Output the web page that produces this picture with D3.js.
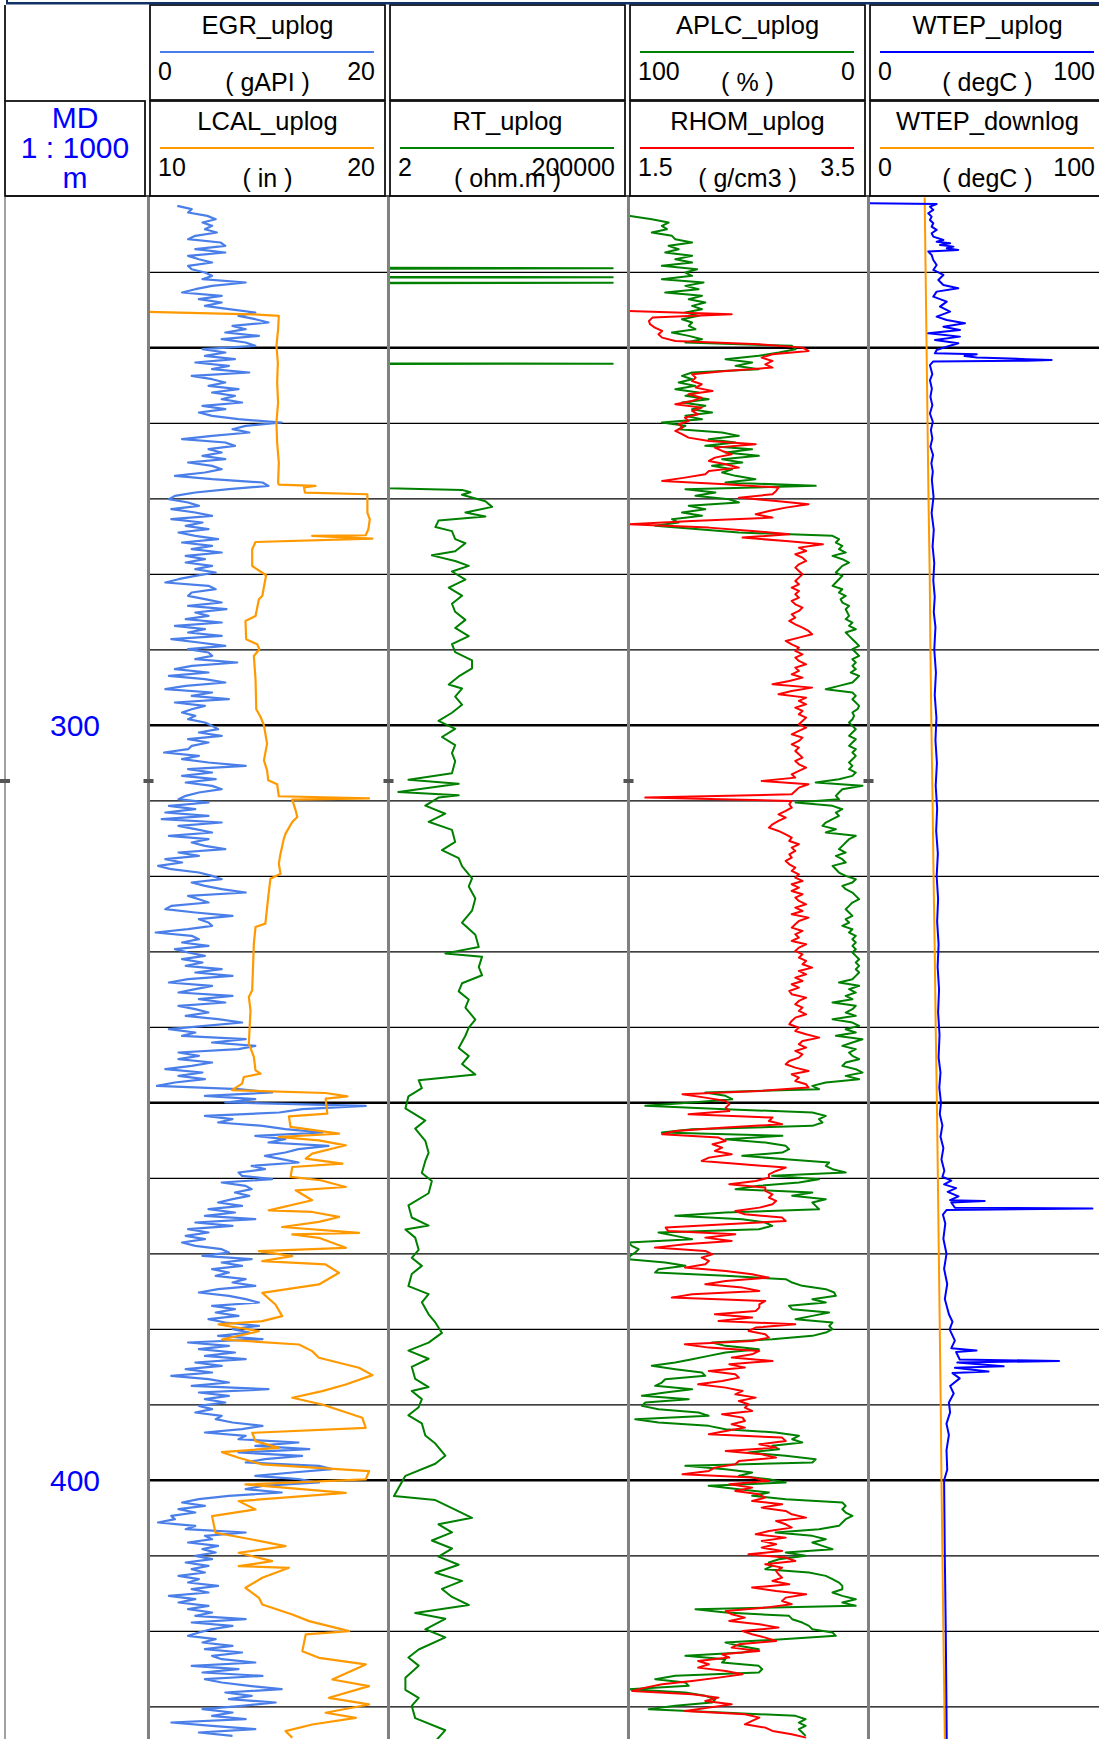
<!DOCTYPE html>
<html><head><meta charset="utf-8">
<script src="https://cdn.jsdelivr.net/npm/d3@7/dist/d3.min.js"></script>
<style>html,body{margin:0;padding:0;background:#fff}svg{display:block}</style>
</head><body>
<svg id="chart" width="1099" height="1739"></svg>
<script>
// ---------------- DATA ----------------
// regular depth sampling for the dense curves (m)
const SAMPLE_TOP = 231.2, SAMPLE_STEP = 0.4415, RHOM_TOP = 245.12;

// EGR_uplog (gAPI), from SAMPLE_TOP every SAMPLE_STEP
const EGR = [
 2.4,3.6,3.3,4.9,5.6,4.5,5.3,4.7,5.7,3.9, 3.3,6.0,6.4,3.9,6.4,3.3,4.2,5.3,3.3,3.6,
 4.7,5.3,4.5,8.1,5.3,3.9,2.8,6.1,4.2,6.1, 4.7,6.7,8.9,7.5,8.9,10.0,7.0,8.1,6.4,9.2,
 6.1,8.1,8.9,4.5,6.4,4.7,7.2,3.9,6.7,5.3, 8.4,3.6,5.3,6.4,5.0,7.5,5.3,7.2,6.1,7.8,
 4.5,6.4,4.2,5.3,7.5,11.1,8.1,7.0,8.4,5.3, 2.8,6.4,7.2,5.0,6.1,4.5,6.4,3.3,5.3,6.1,
 4.7,2.2,5.3,9.5,10.0,6.7,3.9,2.2,1.7,3.3, 4.2,1.9,3.9,5.3,1.9,4.5,3.1,5.0,2.5,3.9,
 5.8,2.8,5.3,3.6,6.1,3.1,4.7,3.1,5.3,3.9, 5.6,3.9,2.5,1.4,5.0,5.6,3.6,3.3,4.7,6.1,
 3.3,6.5,3.9,5.0,3.1,6.1,2.2,4.7,3.3,6.1, 1.9,4.2,6.4,3.3,5.0,5.3,3.9,7.4,3.6,2.2,
 5.0,1.7,4.7,6.4,3.1,1.4,5.3,3.6,6.7,2.2, 4.7,3.6,2.8,3.9,
 3.3,4.7,5.3,5.8,4.2,6.1,3.3,5.0,3.6,3.3, 1.3,4.2,2.8,5.0,8.1,3.3,5.3,2.8,5.6,3.1,
 5.3,6.1,4.2,3.1,2.5,5.0,1.7,3.9,1.4,5.0, 1.1,6.1,2.5,3.9,5.3,1.7,5.0,3.6,4.7,6.4,
 2.5,4.2,1.4,2.8,0.8,1.9,4.2,5.3,6.1,3.6, 4.7,6.1,8.1,3.3,4.2,5.0,1.9,1.4,3.9,7.0,
 4.2,5.0,5.3,3.3,0.6,3.6,4.2,2.8,5.0,2.2, 3.3,4.7,2.8,4.5,3.1,6.1,3.9,7.0,3.3,1.7,
 5.3,3.9,2.5,7.0,4.2,6.4,2.5,3.9,5.0,3.1, 5.8,7.8,4.7,1.7,3.9,2.8,8.1,5.3,8.9,7.5,
 2.5,4.2,2.5,5.3,3.6,1.4,4.5,2.5,4.7,2.2, 0.7,7.5,10.3,4.7,8.9,6.4,18.1,12.8,10.9,4.7,
 7.0,5.8,9.5,11.4,14.5,8.9,11.4,10.0,15.0,12.5, 11.4,9.7,11.1,12.5,8.6,9.7,7.5,7.8,10.3,6.1,
 8.1,8.6,7.2,8.4,7.0,5.8,7.8,5.0,7.2,4.7, 8.9,3.9,7.0,3.3,
 5.0,3.1,4.7,2.8,3.9,6.1,6.7,4.5,8.6,6.1, 7.8,5.3,6.7,5.6,8.1,7.0,8.9,5.8,4.2,6.7,
 8.1,9.2,5.3,7.2,5.6,7.5,5.0,6.4,9.2,7.0, 8.4,5.8,9.5,3.3,6.7,4.2,7.2,4.7,8.1,3.9,
 6.1,3.1,5.3,1.9,5.0,6.7,3.6,10.0,4.2,6.7, 4.7,6.4,4.2,5.3,3.9,6.1,5.6,7.0,9.5,7.8,
 4.7,8.1,7.5,12.5,8.9,13.4,7.5,12.8,9.7,8.1, 14.2,15.3,12.0,8.9,12.5,14.2,9.5,8.1,11.1,6.7,
 4.2,2.8,4.7,2.5,3.9,1.9,2.2,0.8,3.9,3.1, 8.1,4.7,5.3,3.3,5.8,4.5,5.6,3.9,5.3,3.1,
 5.0,3.6,4.7,2.5,4.2,3.3,5.8,3.6,5.0,1.7, 3.9,2.5,5.0,3.3,5.3,3.9,8.1,3.6,7.0,5.3,
 4.2,3.3,5.6,4.5,7.0,4.7,7.8,5.3,6.1,8.9, 3.6,7.5,4.5,9.5,4.7,6.1,8.4,11.1,6.4,8.6,
 6.7,10.6,7.8,4.5,7.0,5.3,8.1,1.9,5.3,8.9, 4.2,7.0
];

// APLC_uplog (%), from SAMPLE_TOP every SAMPLE_STEP
const APLC = [
 100,100,100,100,90.3,83.3,86.1,84,90.3,81.9, 80.5,73.5,83.3,79.1,84.7,73.5,80.5,73.5,86.1,71.4,
 76.3,73.5,86.1,68.7,76.3,70.8,84.7,69.4,74.9,68.0, 73.5,69.4,76.3,70.8,77.7,73.5,74.9,72.1,81.9,74.9,
 69.4,76.3,31.8,30.4,37.3,45.7,59.6,48.5,55.4,45.7, 73.5,77.7,73.5,79.1,72.1,80.5,70.8,76.3,66.6,77.7,
 68.0,73.5,65.2,76.3,69.4,86.1,76.3,79.1,61.0,54.0, 66.6,55.4,68.0,48.5,59.6,45.7,61.0,52.6,65.2,56.8,
 61.0,55.4,47.1,59.6,22.0,76.3,63.8,72.1,58.2,54.0, 74.9,68.0,77.7,69.4,81.9,79.1,88.9,70.8,54.0,15.0,
 12.3,13.6,10.9,12.3,9.5,15.0,10.9,8.1,10.9,12.3, 13.6,10.9,12.3,13.6,15.0,10.9,12.3,9.5,11.6,10.9,
 8.1,9.5,8.8,8.1,9.5,6.7,8.1,5.3,9.5,8.1, 6.7,5.3,3.9,6.7,5.3,3.9,6.7,5.3,6.7,5.3,
 7.4,3.9,5.3,6.7,12.3,17.8,6.7,5.3,6.7,5.3, 3.9,4.6,6.7,6.0,
 6.7,8.1,6.7,5.3,6.7,8.1,5.3,6.7,8.1,5.3, 6.7,5.3,6.7,8.1,6.7,8.1,5.3,6.7,12.3,22.0,
 2.5,10.9,12.3,13.6,12.3,30.4,15.0,10.9,13.6,12.3, 15.0,17.8,19.2,13.6,17.8,5.3,8.1,9.5,10.9,12.3,
 9.5,13.6,10.9,9.5,15.0,13.6,12.3,9.5,5.3,6.7, 10.9,9.5,6.7,5.3,3.9,6.7,8.1,9.5,8.1,6.7,
 9.5,8.1,10.9,6.7,8.1,5.3,6.7,5.3,6.7,5.3, 6.7,5.3,3.9,5.3,3.9,5.3,3.9,5.3,6.7,12.3,
 3.9,8.1,5.3,9.5,6.7,15.0,5.3,6.7,9.5,5.3, 15.0,6.7,3.9,9.5,5.3,13.6,2.5,6.7,10.9,5.3,
 8.1,6.7,3.9,9.5,10.9,5.3,2.5,9.5,3.9,17.8, 23.4,20.6,68.0,59.6,56.8,73.5,93.0,59.6,23.4,17.8,
 20.6,19.2,23.4,73.5,86.1,35.9,59.6,43.0,34.5,33.1, 35.9,52.6,34.5,16.4,17.8,15.0,9.5,40.1,20.6,29.0,
 45.7,55.4,23.4,31.8,17.8,23.4,22.0,20.6,59.6,80.5, 52.6,43.0,40.1,45.7,
 87.5,80.5,73.5,100,98.6,95.8,97.2,99.3,100,84.7, 76.3,87.5,88.9,59.6,34.5,31.8,27.6,17.8,14.3,13.6,
 23.4,17.8,33.1,31.8,16.4,23.4,30.4,15.0,16.4,15.0, 17.8,23.4,40.1,65.2,59.6,45.7,59.6,66.6,73.5,80.5,
 90.3,80.5,69.4,68.0,84.7,86.1,88.9,73.5,84.7,94.4, 74.9,93.0,94.4,87.5,70.8,66.6,97.2,87.5,66.6,59.6,
 38.7,29.0,31.8,27.6,40.1,37.3,50.1,34.5,22.0,23.4, 76.3,59.6,48.5,54.0,41.5,34.5,66.6,54.0,41.5,48.5,
 34.5,10.9,9.5,10.9,9.5,6.7,9.5,10.9,12.3,20.6, 38.7,23.4,17.8,23.4,19.2,15.0,34.5,26.2,37.3,41.5,
 40.1,43.0,24.8,17.8,15.0,12.3,10.9,10.9,15.0,10.9, 5.3,10.9,5.3,72.1,59.6,33.1,31.8,27.6,24.8,23.4,
 15.0,13.6,35.9,59.6,54.0,45.7,52.6,76.3,59.6,61.0, 45.7,44.3,45.7,80.5,88.9,76.3,74.9,100,76.3,68.0,
 63.8,65.2,80.5,91.6,61.0,30.4,26.2,29.0,26.2,29.0, 27.6,26.2
];

// RHOM_uplog (g/cm3), from RHOM_TOP every SAMPLE_STEP
const RHOM = [
 1.50,2.36,1.70,1.67,1.68,1.72,1.78,1.75,1.78,1.89, 2.59,2.95,3.00,2.70,2.61,2.70,2.64,2.70,2.31,2.03,
 2.06,2.03,2.11,2.06,2.20,2.00,2.11,2.03,1.89,2.11, 2.03,2.08,1.97,2.00,1.92,1.95,1.89,1.95,2.00,2.17,
 2.56,2.22,2.28,2.36,2.22,2.17,2.31,2.42,2.17,2.14, 1.97,1.78,2.31,2.75,2.73,2.70,2.42,2.73,3.00,2.81,
 2.67,2.56,2.70,2.03,1.50,2.17,2.53,2.84,2.45,2.81, 3.12,2.92,2.98,2.89,2.95,2.98,2.92,2.89,2.92,2.95,
 2.92,2.89,2.92,2.86,2.92,2.89,2.92,2.86,2.89,2.95, 2.92,2.86,2.89,2.84,2.89,2.95,3.00,3.03,2.92,2.81,
 2.86,2.92,2.89,2.95,2.89,2.92,2.98,2.89,2.92,2.86, 2.95,2.84,2.70,3.03,2.86,2.75,2.98,2.92,2.98,2.89,
 2.95,2.92,
 2.98,2.95,2.92,2.98,2.92,2.86,2.95,2.92,2.86,2.92, 2.89,2.92,2.95,2.89,2.92,2.98,2.92,2.86,2.89,2.61,
 3.00,2.92,2.89,2.86,1.64,2.86,2.84,2.86,2.81,2.75, 2.81,2.75,2.70,2.67,2.75,2.81,2.86,2.84,2.92,2.86,
 2.89,2.84,2.86,2.81,2.84,2.89,2.86,2.92,2.89,2.95, 2.86,2.92,2.86,2.95,2.89,2.92,2.98,2.89,2.95,2.86,
 3.00,2.92,2.89,2.86,2.95,2.89,2.92,2.86,2.98,2.92, 2.89,2.95,2.92,2.98,2.95,3.03,2.92,2.98,2.89,2.95,
 2.86,2.92,2.84,2.86,2.98,2.92,2.89,2.95,2.92,2.98, 2.89,2.86,2.84,2.92,2.89,2.98,3.09,2.95,2.92,2.98,
 2.89,2.95,2.92,2.84,2.81,2.89,3.00,2.86,2.92,2.89, 2.98,3.00,2.59,1.95,2.14,2.31,2.34,2.31,2.34,2.00,
 2.70,2.67,2.78,2.31,1.89,1.78,2.25,2.31,2.20,2.28, 2.22,2.36,2.17,2.11,2.45,2.81,2.73,2.67,2.67,2.56,
 2.34,2.64,2.64,2.70,2.67,2.73,2.70,2.59,2.39,2.47, 2.78,2.81,2.31,1.81,1.83,
 2.39,2.14,2.36,1.97,1.72,2.14,2.20,2.11,2.17,2.14, 1.97,2.31,2.53,2.67,2.31,2.14,2.45,2.59,2.03,1.86,
 2.64,2.59,2.59,2.56,2.22,2.53,2.25,2.89,2.56,2.50, 2.64,2.67,2.53,1.97,2.17,2.59,2.53,2.36,2.70,2.34,
 2.47,2.17,2.39,2.42,2.28,2.08,2.31,2.45,2.39,2.56, 2.42,2.50,2.47,2.53,2.28,2.45,2.47,2.36,2.47,2.31,
 2.17,2.78,2.81,2.59,2.73,2.31,2.61,2.73,2.42,2.39, 2.22,2.17,1.95,2.53,2.67,2.34,2.53,2.39,2.59,2.64,
 2.53,2.78,2.61,2.81,2.86,2.98,2.73,2.81,2.86,2.67, 2.56,2.81,2.61,2.73,2.61,2.78,2.50,2.81,2.89,2.64,
 2.78,2.73,2.75,2.78,2.70,2.84,2.53,2.73,2.98,2.81, 2.78,2.86,2.64,2.31,2.36,2.47,2.34,2.59,2.75,2.45,
 2.53,2.64,2.73,2.42,2.36,2.59,2.28,2.34,2.08,2.17, 2.08,2.31,2.45,2.25,2.03,1.78,1.64,1.53,2.03,2.25,
 2.14,2.36,2.17,1.97,2.47,2.59,2.53,2.47,2.64,2.70, 2.86,2.98
];

// LCAL_uplog (in): [depth m, value]
const LCAL = [
 [245.25,10.0],[245.56,14.32],[245.78,15.43],[247.55,15.40],[249.76,15.33],[251.96,15.39],[254.61,15.36],
 [257.26,15.40],[259.91,15.33],[262.56,15.36],[265.21,15.43],[267.86,15.40],[268.12,15.43],[268.30,16.96],
 [268.48,16.48],[269.18,16.52],[269.40,19.12],[271.83,19.12],[272.72,19.22],[274.04,19.16],[274.83,19.05],
 [274.92,16.82],[275.28,19.33],[275.72,14.46],[276.69,14.32],[278.90,14.32],[279.79,14.74],[280.13,14.90],
 [282.87,14.74],[283.31,14.60],[285.52,14.46],[286.18,14.04],[288.61,14.07],[289.27,14.53],[289.93,14.62],
 [290.82,14.39],[293.91,14.46],[297.88,14.49],[298.90,14.67],[300.00,14.81],[302.43,14.94],[304.64,14.81],
 [305.96,14.94],[307.28,14.99],[307.81,15.36],[309.40,15.43],[309.67,19.19],[309.85,15.99],[311.26,16.13],
 [312.14,16.20],[312.80,15.99],[314.35,15.71],[315.01,15.64],[317.00,15.50],[318.32,15.43],[319.65,15.50],
 [320.31,15.08],[322.74,14.99],[326.27,14.87],[326.71,14.46],[328.92,14.39],[335.10,14.32],[335.98,14.18],
 [337.75,14.25],[342.16,14.18],[343.93,14.39],[345.70,14.46],[346.14,14.67],[346.58,13.97],[347.46,13.90],
 [347.90,13.69],[348.34,13.48],[348.70,17.38],[349.14,18.29],[349.45,17.38],[351.43,17.45],[351.79,15.85],
 [353.20,15.92],[354.08,17.94],[354.53,15.43],[354.97,17.10],[355.63,18.22],[356.73,16.82],[357.40,16.55],
 [358.06,18.08],[358.50,15.99],[359.82,15.92],[360.26,17.17],[361.15,18.22],[361.59,16.13],[362.91,16.82],
 [364.24,15.01],[364.46,16.82],[365.12,17.94],[365.78,17.10],[366.45,15.57],[367.22,18.77],[367.44,15.99],
 [367.88,17.10],[369.21,18.22],[369.65,14.60],[370.31,15.99],[370.97,14.74],[371.41,17.38],[372.52,17.94],
 [374.06,17.10],[375.17,14.74],[376.71,15.29],[378.26,15.57],[378.92,14.74],[379.36,12.92],[380.24,14.60],
 [381.35,13.06],[382.01,16.27],[382.89,16.82],[383.77,17.10],[385.10,18.77],[386.07,19.33],[387.31,18.22],
 [388.19,17.24],[389.07,15.99],[389.96,17.24],[391.72,18.91],[393.05,19.05],[393.71,14.32],[394.81,14.46],
 [395.70,15.43],[396.27,13.06],[397.02,13.76],[397.90,14.74],[398.79,19.19],[399.89,19.05],[400.55,14.04],
 [401.66,18.22],[402.76,13.76],[403.86,14.46],[404.75,12.65],[406.95,12.79],[407.84,14.32],[408.72,15.71],
 [409.60,13.76],[410.71,15.15],[411.37,13.76],[411.59,15.85],[412.91,14.74],[414.24,14.04],[415.56,14.60],
 [416.45,14.74],[417.77,15.99],[418.65,16.69],[419.98,18.36],[420.42,16.55],[422.63,16.41],[423.51,17.10],
 [424.39,19.05],[426.38,17.66],[427.26,19.19],[428.81,17.52],[429.69,19.19],[430.79,17.38],[431.46,18.64],
 [432.34,16.82],[433.22,15.71],[434.11,15.99]
];

// RT_uplog (ohm.m): [depth m, value]
const RT = [
 [239.40,2],[239.45,94000],[239.52,2],[240.60,2],[240.65,94000],[240.70,2],[241.35,2],[241.40,94000],[241.45,2],
 [252.05,2],[252.10,94000],[252.15,2],
 [268.61,2],[268.82,68],[269.14,102],[269.47,68],[270.32,209],[271.07,288],[271.82,80],[272.35,209],[272.89,22],
 [273.74,19],[274.28,42],[275.35,49],[275.88,80],[276.95,49],[277.49,16],[278.24,49],[278.88,94],[279.63,42],
 [280.70,80],[281.76,36],[282.83,68],[283.90,42],[284.97,49],[286.04,80],[287.11,49],[288.18,94],[289.25,42],
 [290.32,49],[291.39,110],[292.46,110],[293.53,58],[294.60,36],[295.13,68],[296.20,49],[297.27,68],[298.34,42],
 [299.41,22],[300.48,49],[301.55,26],[302.62,49],[303.69,42],[304.76,49],[306.36,42],[307.22,5.2],[307.75,58],
 [308.82,3.2],[309.25,58],[309.57,22],[310.64,11.7],[311.71,30.5],[312.78,13.7],[313.85,42],[315.45,49],
 [316.52,26],[317.59,58],[318.66,68],[320.27,110],[321.34,94],[322.94,129],[324.55,110],[326.15,68],[327.75,129],
 [329.36,152],[330.21,30.5],[330.64,178],[332.03,152],[333.10,178],[334.17,68],[335.24,58],[336.31,94],
 [337.38,80],[338.98,129],[340.05,94],[341.12,80],[342.73,58],[343.80,94],[344.87,68],[346.26,129],[347.01,8.5],
 [348.07,9.9],[349.14,5.2],[350.75,4.5],[352.35,11.7],[353.42,7.2],[355.03,11.7],[356.63,13.7],[357.70,11.7],
 [359.30,9.9],[360.37,16],[361.98,13.7],[363.58,5.2],[365.19,6.1],[366.26,13.7],[366.79,4.5],[367.86,7.2],
 [369.47,8.5],[370.53,6.1],[371.60,9.9],[372.67,6.1],[374.28,5.2],[375.35,13.7],[376.42,9.9],[378.02,13.7],
 [379.09,18.9],[380.48,26],[381.76,13.7],[382.83,5.2],[383.90,13.7],[384.97,6.1],[386.58,7.2],[387.65,13.7],
 [388.18,6.1],[389.25,9.9],[390.32,8.5],[391.39,5.2],[392.46,9.9],[394.06,11.7],[395.13,18.9],[396.74,30.5],
 [397.81,18.9],[399.41,4.5],[402.09,2.6],[402.62,18.9],[403.69,42],[404.97,110],[405.83,22],[406.90,42],
 [407.97,16],[409.04,42],[410.11,22],[411.18,58],[412.25,19],[413.32,68],[414.39,26],[415.45,42],[416.52,94],
 [417.59,7.2],[418.34,30.5],[419.73,11.7],[420.80,30.5],[422.41,8.5],[423.48,5.2],[424.55,8.5],[426.15,4.5],
 [427.75,4.5],[428.82,8.5],[429.89,6.1],[431.50,7.2],[433.10,30.5],[434.40,20]
];

// WTEP_uplog (degC): [depth m, value]
const WTEP_UP = [
 [230.86,0.3],[230.95,28.4],[231.30,25.6],[231.74,27.0],[232.18,24.9],[232.63,26.3],[233.07,25.6],[233.51,27.0],
 [233.95,26.3],[234.39,28.4],[234.83,26.3],[235.28,27.0],[235.72,31.2],[235.94,28.4],[236.16,34.0],[236.38,29.8],
 [236.60,35.4],[236.82,32.6],[237.04,37.4],[237.26,24.9],[237.70,26.3],[238.37,27.0],[239.03,28.4],[239.69,27.0],
 [240.35,31.2],[241.01,29.1],[241.68,31.2],[242.12,37.4],[242.56,28.4],[243.22,27.0],[243.88,32.6],[244.55,29.8],
 [245.21,34.0],[245.87,28.4],[246.31,32.6],[246.75,40.2],[247.20,31.2],[247.64,38.1],[248.08,24.9],[248.52,38.1],
 [248.96,27.7],[249.40,37.4],[249.85,32.6],[250.29,28.4],[250.73,27.7],[250.85,45.1],[251.10,40.0],[251.30,45.1],
 [251.50,65.9],[251.60,76.3],[251.70,65.9],[251.80,27.0],[252.30,25.6],[253.5,26.6],[254.3,25.6],[255.4,26.4],
 [256.5,25.8],[257.6,26.6],[258.7,25.6],[259.8,26.8],[260.9,26.0],[262.0,26.6],[263.1,25.8],[264.2,26.9],
 [265.3,26.2],[266.4,26.8],[267.5,26.4],[269.7,27.1],[271.9,26.3],[274.1,27.2],[276.3,26.7],[278.5,27.4],
 [280.8,27.0],[283,27.6],[285,27.2],[287,27.9],[290,27.4],[293,28.1],[296,27.6],[299,28.3],[302,27.9],[305,28.5],
 [308,28.0],[311,28.6],[314,28.2],[317,28.9],[320,28.4],[323,29.0],[326,28.6],[329,29.2],[332,28.8],[335,29.4],
 [338,29.0],[341,29.6],[344,29.2],[346,30.0],[348,29.5],[350,30.2],[351.5,29.7],[353,30.8],[354.5,30.0],
 [356,31.2],[357.5,30.4],[359,31.6],[359.8,30.8],[360.3,34.5],[360.8,31.5],[361.3,36.5],[361.8,33.0],
 [362.4,37.5],[362.9,34.0],[363.0,48.4],[363.2,34.5],[363.9,36.0],[364.0,93.3],[364.2,32.5],[364.8,31.0],
 [366,32.0],[368,31.2],[370,32.5],[372,31.5],[374,32.8],[376,31.8],[378,33.5],[379,35.0],[380,33.8],[381.5,36.0],
 [382.5,34.5],[382.8,45.0],[383,36.5],[384,38.0],[384.2,79.4],[384.4,37.0],[384.9,56.3],[385.1,36.0],
 [385.6,50.0],[385.8,35.0],[386.5,38.0],[387.5,34.0],[388.5,35.5],[389.7,33.5],[391,34.0],[392.5,32.5],
 [394,33.5],[396,32.5],[398.6,32.8],[400,31.5],[410,31.8],[420,32.2],[434.4,32.6]
];

// WTEP_downlog (degC): [depth m, value]
const WTEP_DOWN = [
 [230.1,23.4],[240,23.8],[250,24.2],[260,24.6],[270,25.0],[280,25.5],[290,25.8],[300,26.2],[310,26.7],
 [320,27.1],[330,27.6],[340,28.0],[350,28.5],[360,28.9],[370,29.3],[380,29.7],[390,30.1],[400,30.4],
 [410,30.8],[420,31.2],[434.4,31.8]
];

// Header texts
const HEADERS = [
 {track:0,row:0,title:"EGR_uplog",  min:"0",  max:"20",    unit:"( gAPI )", color:"#4a7ee8"},
 {track:0,row:1,title:"LCAL_uplog", min:"10", max:"20",    unit:"( in )",   color:"#ff9900"},
 {track:1,row:1,title:"RT_uplog",   min:"2",  max:"200000",unit:"( ohm.m )",color:"#008000"},
 {track:2,row:0,title:"APLC_uplog", min:"100",max:"0",     unit:"( % )",    color:"#008000"},
 {track:2,row:1,title:"RHOM_uplog", min:"1.5",max:"3.5",   unit:"( g/cm3 )",color:"#ff0000"},
 {track:3,row:0,title:"WTEP_uplog", min:"0",  max:"100",   unit:"( degC )", color:"#0000ff"},
 {track:3,row:1,title:"WTEP_downlog",min:"0", max:"100",   unit:"( degC )", color:"#ff9900"}
];
const DEPTH_LABELS = [300, 400];
const MD_LINES = ["MD", "1 : 1000", "m"];

// ---------------- LAYOUT ----------------
const FONT = "'Liberation Sans', Arial, Helvetica, sans-serif";
const W = 1099, H = 1739;
const PLOT_TOP = 197, PLOT_BOTTOM = 1739;
const TRACK_LEFT = [148.5, 388.5, 628.5, 868.5], TRACK_W = 240;
const ROW_TOP = [5, 101], ROW_H = 95;

const svg = d3.select("#chart");
const y = d3.scaleLinear().domain([250, 400]).range([347.8, 1480.3]);
const tr = i => [TRACK_LEFT[i], TRACK_LEFT[i] + TRACK_W];

const xEGR  = d3.scaleLinear().domain([0, 20]).range(tr(0));
const xLCAL = d3.scaleLinear().domain([10, 20]).range(tr(0));
const xRT   = d3.scaleLog().domain([2, 200000]).range(tr(1));
const xAPLC = d3.scaleLinear().domain([100, 0]).range(tr(2));
const xRHOM = d3.scaleLinear().domain([1.5, 3.5]).range(tr(2));
const xWTEP = d3.scaleLinear().domain([0, 100]).range(tr(3));

// clip paths
const defs = svg.append("defs");
TRACK_LEFT.forEach((l, i) => {
  defs.append("clipPath").attr("id", "clip" + i).append("rect")
    .attr("x", l).attr("y", PLOT_TOP).attr("width", TRACK_W).attr("height", PLOT_BOTTOM - PLOT_TOP);
});

// grid lines
const gridDepths = d3.range(240, 440, 10);
const gridG = svg.append("g");
gridG.selectAll("line").data(gridDepths).join("line")
  .attr("x1", TRACK_LEFT[0]).attr("x2", W)
  .attr("y1", d => y(d)).attr("y2", d => y(d))
  .attr("stroke", "#000")
  .attr("stroke-width", d => d % 50 === 0 ? 2.6 : 1.3);

// curves
const regular = (arr, top) => arr.map((v, i) => ({d: top + i * SAMPLE_STEP, v}));
const pairs = arr => arr.map(p => ({d: p[0], v: p[1]}));
function curve(track, data, xs, color, w) {
  const line = d3.line().x(p => xs(p.v)).y(p => y(p.d));
  svg.append("path").datum(data).attr("d", line)
    .attr("clip-path", `url(#clip${track})`)
    .attr("fill", "none").attr("stroke", color)
    .attr("stroke-width", w).attr("stroke-linejoin", "round");
}
curve(0, regular(EGR, SAMPLE_TOP), xEGR, "#4a7ee8", 2.2);
curve(0, pairs(LCAL), xLCAL, "#ff9900", 2.2);
curve(1, pairs(RT), xRT, "#008000", 2);
curve(2, regular(APLC, SAMPLE_TOP), xAPLC, "#008000", 2);
curve(2, regular(RHOM, RHOM_TOP), xRHOM, "#ff0000", 2);
curve(3, pairs(WTEP_DOWN), xWTEP, "#ff9900", 2);
curve(3, pairs(WTEP_UP), xWTEP, "#0000ff", 2);

// track borders
svg.append("g").selectAll("line").data(TRACK_LEFT).join("line")
  .attr("x1", d => d).attr("x2", d => d)
  .attr("y1", PLOT_TOP).attr("y2", PLOT_BOTTOM)
  .attr("stroke", "#808080").attr("stroke-width", 3);
svg.append("line").attr("x1", 5).attr("x2", 5).attr("y1", PLOT_TOP).attr("y2", PLOT_BOTTOM)
  .attr("stroke", "#808080").attr("stroke-width", 1.5);
// small page marks
const markY = 781;
svg.append("g").selectAll("rect").data([5].concat(TRACK_LEFT)).join("rect")
  .attr("x", d => d - 5).attr("y", markY - 2).attr("width", 10).attr("height", 4)
  .attr("fill", "#555");

// depth labels
svg.append("g").selectAll("text").data(DEPTH_LABELS).join("text")
  .attr("x", 75).attr("y", d => y(d)).attr("dy", "0.35em")
  .attr("text-anchor", "middle").attr("font-family", FONT).attr("font-size", 30)
  .attr("fill", "#0000ff").text(d => d);

// ---------------- HEADER ----------------
const hg = svg.append("g");
hg.append("rect").attr("x", 0).attr("y", 0).attr("width", W).attr("height", PLOT_TOP - 1).attr("fill", "#fff");
function box(x, yy, w, h) {
  hg.append("rect").attr("x", x).attr("y", yy).attr("width", w).attr("height", h)
    .attr("fill", "none").attr("stroke", "#111").attr("stroke-width", 1.8);
}
// empty top cell above RT
box(TRACK_LEFT[1] + 1.5, ROW_TOP[0], 235, ROW_H);
HEADERS.forEach(h => {
  const x = TRACK_LEFT[h.track] + 1.5, w = 235, top = ROW_TOP[h.row], cx = x + w / 2;
  box(x, top, w, ROW_H);
  const t = (tx, ty, s, anchor) => hg.append("text").attr("x", tx).attr("y", ty)
    .attr("text-anchor", anchor).attr("font-family", FONT).attr("font-size", 25)
    .attr("fill", "#000").text(s);
  t(cx, top + 29, h.title, "middle").attr("font-size", 25.5);
  hg.append("line").attr("x1", x + 10).attr("x2", x + w - 11)
    .attr("y1", top + 47).attr("y2", top + 47).attr("stroke", h.color).attr("stroke-width", 2);
  t(x + 8, top + 75, h.min, "start");
  t(x + w - 10, top + 75, h.max, "end");
  t(cx, top + 86, h.unit, "middle");
});
// MD box
box(5, ROW_TOP[1], 140, ROW_H);
hg.append("line").attr("x1", 5).attr("x2", 5).attr("y1", ROW_TOP[0]).attr("y2", ROW_TOP[1])
  .attr("stroke", "#111").attr("stroke-width", 1.8);
hg.selectAll("text.md").data(MD_LINES).join("text").attr("class", "md")
  .attr("x", 75).attr("y", (d, i) => [127.5, 157.5, 187.5][i])
  .attr("text-anchor", "middle").attr("font-family", FONT).attr("font-size", 30)
  .attr("fill", "#0000ff").text(d => d);
// header bottom line
hg.append("line").attr("x1", 5).attr("x2", W).attr("y1", PLOT_TOP - 1).attr("y2", PLOT_TOP - 1)
  .attr("stroke", "#111").attr("stroke-width", 1.5);
// top navy frame
hg.append("line").attr("x1", 6).attr("x2", W).attr("y1", 3.3).attr("y2", 3.3)
  .attr("stroke", "#12306a").attr("stroke-width", 2.4);
hg.append("line").attr("x1", 7).attr("x2", 7).attr("y1", 0).attr("y2", 4)
  .attr("stroke", "#12306a").attr("stroke-width", 2);
</script>
</body></html>
